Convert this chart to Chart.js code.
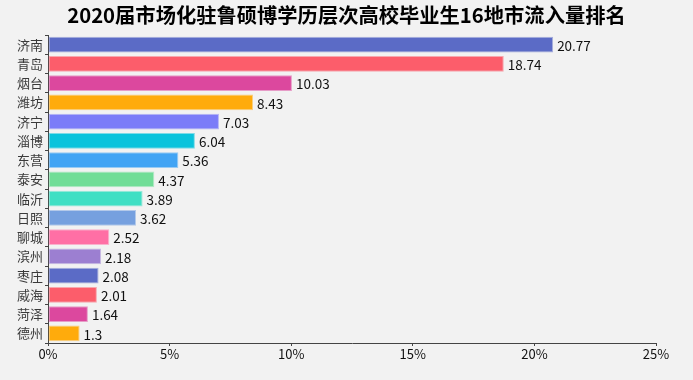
<!DOCTYPE html>
<html>
<head>
<meta charset="utf-8">
<script src="https://cdn.jsdelivr.net/npm/chart.js@4/dist/chart.umd.min.js"></script>
<style>
html,body{margin:0;padding:0;background:#f2f2f2;}
#wrap{width:693px;height:380px;position:relative;}
</style>
</head>
<body>
<div id="wrap"><canvas id="c" width="693" height="380"></canvas></div>
<script>
const titleText = '2020届市场化驻鲁硕博学历层次高校毕业生16地市流入量排名';
const categories = ['济南','青岛','烟台','潍坊','济宁','淄博','东营','泰安','临沂','日照','聊城','滨州','枣庄','威海','菏泽','德州'];
const values = [20.77,18.74,10.03,8.43,7.03,6.04,5.36,4.37,3.89,3.62,2.52,2.18,2.08,2.01,1.64,1.3];
const valueLabels = ['20.77','18.74','10.03','8.43','7.03','6.04','5.36','4.37','3.89','3.62','2.52','2.18','2.08','2.01','1.64','1.3'];
const palette = ['#5b6bc6','#fc5d6b','#dc489e','#ffab0c','#7b7cf8','#0bc3dc','#42a4f4','#71dd97','#40dfc4','#76a0df','#ff6fa5','#9c7fd1'];
const xTicks = [0,5,10,15,20,25];

const fills = categories.map((_, i) => palette[i % palette.length]);
const borders = fills.map(c => c + '80');

const labelPlugin = {
  id: 'valueLabels',
  afterDatasetsDraw(chart) {
    const ctx = chart.ctx;
    const meta = chart.getDatasetMeta(0);
    ctx.save();
    ctx.font = '13.5px "Noto Sans CJK SC", sans-serif';
    ctx.fillStyle = '#111';
    ctx.textAlign = 'left';
    ctx.textBaseline = 'middle';
    meta.data.forEach((bar, i) => {
      ctx.fillText(valueLabels[i], bar.x + 4, bar.y + 1);
    });
    ctx.restore();
  }
};

const titlePlugin = {
  id: 'centerTitle',
  afterDraw(chart) {
    const ctx = chart.ctx;
    ctx.save();
    ctx.font = 'bold 20.3px "Noto Sans CJK SC", sans-serif';
    ctx.fillStyle = '#000';
    ctx.textAlign = 'center';
    ctx.textBaseline = 'middle';
    ctx.fillText(titleText, chart.width / 2, 15);
    ctx.restore();
  }
};

new Chart(document.getElementById('c'), {
  type: 'bar',
  data: {
    labels: categories,
    datasets: [{
      data: values,
      backgroundColor: fills,
      borderColor: borders,
      borderWidth: 1,
      borderSkipped: false,
      categoryPercentage: 1,
      barPercentage: 0.83
    }]
  },
  options: {
    indexAxis: 'y',
    responsive: false,
    animation: false,
    layout: { padding: { left: 0, right: 37, top: 35, bottom: 12 } },
    plugins: {
      legend: { display: false },
      tooltip: { enabled: false },
      title: { display: false }
    },
    scales: {
      x: {
        min: 0, max: 25,
        afterBuildTicks(scale) { scale.ticks = xTicks.map(v => ({ value: v })); },
        afterFit(scale) { scale.height = 25; },
        ticks: {
          color: '#111',
          font: { size: 13, family: '"Noto Sans CJK SC", sans-serif' },
          padding: 0,
          maxRotation: 0,
          callback: v => v + '%'
        },
        grid: { drawOnChartArea: false, drawTicks: true, tickLength: 3, color: '#444' },
        border: { display: true, color: '#444', width: 1 }
      },
      y: {
        afterFit(scale) { scale.width = 48; },
        ticks: {
          color: '#3a3a3a',
          font: { size: 13, family: '"Noto Sans CJK SC", sans-serif' },
          padding: 2
        },
        grid: { offset: true, drawOnChartArea: false, drawTicks: true, tickLength: 3, color: '#444' },
        border: { display: true, color: '#444', width: 1 }
      }
    }
  },
  plugins: [labelPlugin, titlePlugin]
});
</script>
</body>
</html>
